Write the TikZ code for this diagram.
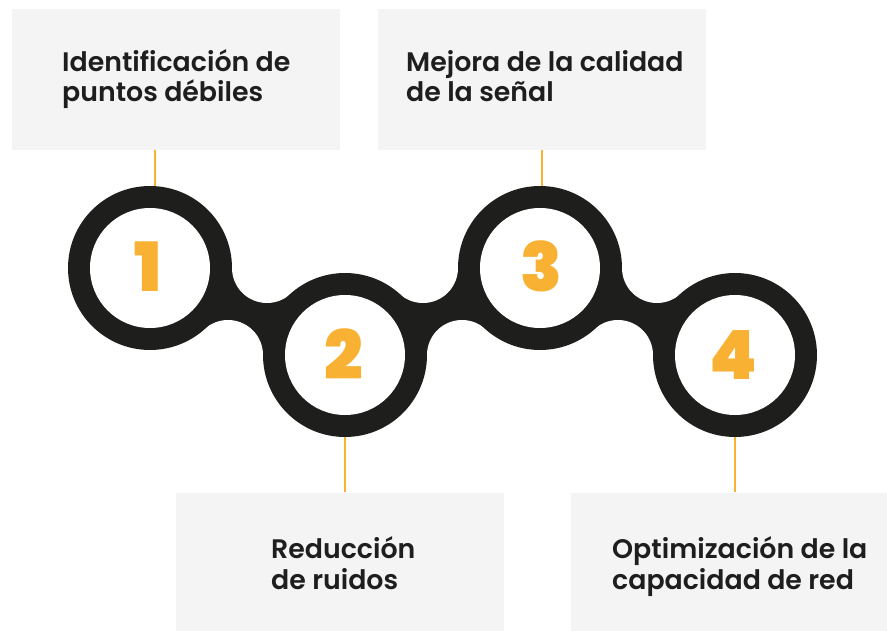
\documentclass[tikz,border=0pt]{standalone}
\usepackage{fontspec}
\setmainfont{Poppins}[UprightFont=* SemiBold, BoldFont=* Black]
\definecolor{ink}{HTML}{1E1E1C}
\definecolor{gold}{HTML}{F8B133}
\definecolor{boxgray}{HTML}{F4F4F4}
\definecolor{txt}{HTML}{1E1E1E}
\begin{document}
\begin{tikzpicture}[x=1pt,y=-1pt,
  boxbg/.style={fill=boxgray, draw=none, inner sep=0pt, minimum width=328pt, minimum height=141pt},
  label/.style={anchor=base west, inner sep=0pt, text=txt, font=\fontsize{26.8}{30}\selectfont},
  outerring/.style={circle, fill=ink, inner sep=0pt, minimum size=164pt},
  innerhole/.style={circle, fill=white, inner sep=0pt, minimum size=120pt},
  digit/.style={anchor=base, inner sep=0pt, text=gold, font=\fontsize{68}{68}\bfseries},
  leader/.style={draw=gold, line width=2pt}
]
\useasboundingbox (0,0) rectangle (887,631);
% boxes
\node[boxbg] (b1) at (176,79.5) {};
\node[boxbg] (b3) at (542,79.5) {};
\node[boxbg] (b2) at (340,563) {};
\node[boxbg, minimum width=316pt] (b4) at (729,563) {};
% texts
\node[label] (t1a) at (62,72) {Identificación de};
\node[label] (t1b) at (62,102) {puntos débiles};
\node[label] (t3a) at (406,72) {Mejora de la calidad};
\node[label] (t3b) at (406,102) {de la señal};
\node[label] (t2a) at (271,558) {Reducción};
\node[label] (t2b) at (271,589) {de ruidos};
\node[label] (t4a) at (612,558) {Optimización de la};
\node[label] (t4b) at (612,589) {capacidad de red};
% ring coordinates
\coordinate (p1) at (150,268);
\coordinate (p2) at (345,355);
\coordinate (p3) at (540,268);
\coordinate (p4) at (735,355);
% leaders
\draw[leader] ([xshift=5pt]p1 |- b1.south) -- ([xshift=5pt]p1);
\draw[leader] (p2 |- b2.north) -- (p2);
\draw[leader] ([xshift=2pt]p3 |- b3.south) -- ([xshift=2pt]p3);
\draw[leader] (p4 |- b4.north) -- (p4);
% bridges
\fill[ink] (150,268) -- (267,268) -- (345,355) -- (228,355) -- cycle;
\fill[ink] (345,355) -- (423,268) -- (540,268) -- (462,355) -- cycle;
\fill[ink] (540,268) -- (657,268) -- (735,355) -- (618,355) -- cycle;
\fill[white] (267,268) circle (35pt) (228,355) circle (35pt)
             (423,268) circle (35pt) (462,355) circle (35pt)
             (657,268) circle (35pt) (618,355) circle (35pt);
% rings
\node[outerring] (r1) at (p1) {};
\node[outerring] (r2) at (p2) {};
\node[outerring] (r3) at (p3) {};
\node[outerring] (r4) at (p4) {};
\node[innerhole] (h1) at (p1) {};
\node[innerhole] (h2) at (p2) {};
\node[innerhole] (h3) at (p3) {};
\node[innerhole] (h4) at (p4) {};
% digits
\node[digit] (n1) at (148,291.5) {1};
\node[digit] (n2) at (344,379) {2};
\node[digit] (n3) at (541,291.5) {3};
\node[digit] (n4) at (733,379.5) {4};
\end{tikzpicture}
\end{document}
